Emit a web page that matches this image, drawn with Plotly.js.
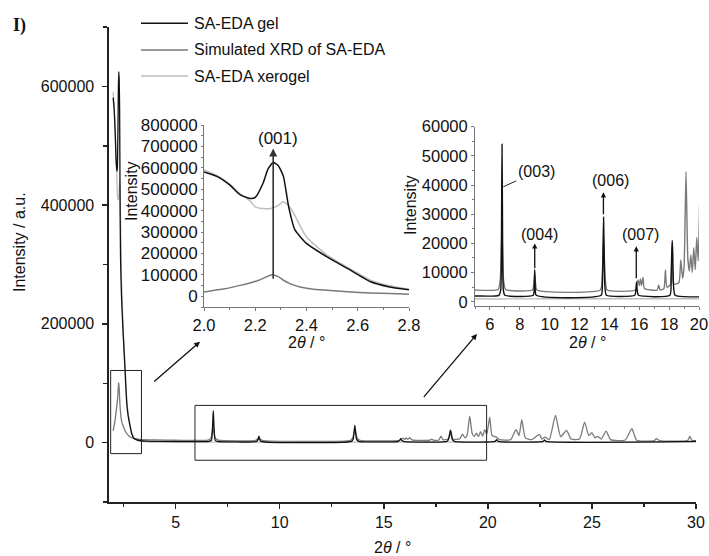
<!DOCTYPE html>
<html>
<head>
<meta charset="utf-8">
<script src="https://cdn.plot.ly/plotly-3.0.1.min.js"></script>
<style>html,body{margin:0;padding:0;background:#fff;}</style>
</head>
<body>
<div id="chart" style="width:709px;height:556px;"></div>
<script>
// ---------------- DATA ----------------
const seriesNames = ["SA-EDA gel", "Simulated XRD of SA-EDA", "SA-EDA xerogel"];

const gelX = [2.00,2.05,2.10,2.14,2.18,2.20,2.23,2.25,2.27,2.29,2.31,2.33,2.355,2.40,2.48,2.56,2.65,2.72,2.80,2.90,3.00,3.20,3.60,4.00,
  6.60,6.72,6.78,6.81,6.84,6.90,7.00,8.90,8.97,9.00,9.03,9.10,
  13.45,13.53,13.58,13.61,13.64,13.70,13.80,15.70,15.78,15.82,15.86,15.95,
  18.05,18.13,18.18,18.21,18.24,18.30,18.40,20.35,20.42,20.50,22.65,22.72,22.80,30.00];
const gelY = [581000,560000,520000,475000,457000,462000,527000,595000,625000,610000,560000,420000,310000,247000,184000,130000,68000,45000,30000,14000,7000,4000,2500,2200,
  2200,4000,30000,54000,30000,4000,2200,2200,6000,11000,6000,2200,
  2200,6000,20000,29000,20000,5000,2200,2200,4500,6800,4000,2200,
  2200,8000,18000,21000,17000,5000,2200,2000,5000,2000,2000,4500,2000,2000];

const simX = [2.00,2.08,2.14,2.19,2.22,2.245,2.265,2.29,2.31,2.34,2.375,2.42,2.48,2.56,2.65,2.80,3.00,3.30,4.00,5.00,
  6.55,6.70,6.76,6.80,6.84,6.90,7.05,8.85,8.95,9.00,9.05,9.15,
  13.40,13.52,13.58,13.61,13.65,13.72,13.85,15.75,15.85,15.92,16.00,16.08,16.15,16.25,16.35,
  17.20,17.30,17.40,17.65,17.75,17.85,18.10,18.20,18.30,18.65,18.78,18.90,19.00,19.13,19.25,19.35,19.45,19.55,19.65,19.75,19.85,19.95,
  20.09,20.20,20.40,20.55,21.10,21.35,21.50,21.63,21.80,22.10,22.47,22.60,22.75,22.95,23.25,23.50,23.78,24.00,24.40,24.65,24.85,24.99,25.15,25.27,25.45,25.68,25.90,
  26.60,26.92,27.15,28.00,28.10,28.25,29.60,29.70,29.80,30.00];
const simY = [20000,35000,51000,66000,78000,92000,101000,92000,75000,57000,43500,34000,28000,21000,15500,10000,7000,5500,4500,4000,
  4200,8000,18000,24000,18000,8000,4200,4000,6500,9500,6500,4000,
  4000,9000,18000,22000,17000,8000,4000,4000,6500,7500,5500,7800,5500,8300,4500,
  4000,5700,4000,4500,10900,5000,6000,16000,6000,6500,14300,8000,12000,44600,15000,10500,16000,10000,18500,11000,22000,14000,
  43000,12000,9400,5000,5000,21800,12000,38600,8000,5000,14000,6000,9400,5000,45900,10000,20700,6000,6000,34600,12000,16800,8000,10600,6000,19500,5000,
  4500,23500,4000,3500,6600,3500,3500,10600,4000,3500];

const xeroX = [2.00,2.05,2.10,2.14,2.18,2.20,2.23,2.26,2.29,2.31,2.33,2.35,2.40,2.48,2.56,2.65,2.72,2.80,2.90,3.00,3.20,3.60,5.00,10.00,20.00,30.00];
const xeroY = [590000,565000,525000,480000,445000,418000,410000,410000,425000,441000,425000,387000,277000,192000,135000,75000,50000,33000,16000,8000,3500,1500,1000,1000,1000,1000];

const mainXTicks = {dtick:5, minor:2.5};
const inset1XTickLabels = ["2.0","2.2","2.4","2.6","2.8"];
const inset2XTickLabels = ["6","8","10","12","14","16","18","20"];
const peakLabels = ["(001)","(003)","(004)","(006)","(007)"];

// ---------------- STYLE / LAYOUT ----------------
const colors = ["#111111", "#7a7a7a", "#bdbdbd"];
const W = 709, H = 556, ML = 109, MR = 10, MT = 27, MB = 54;
const PW = W - ML - MR, PH = H - MT - MB;
const PX = x => (x - ML) / PW;
const PY = y => (H - MB - y) / PH;

const FONT = "Liberation Sans, Arial, sans-serif";
const series = [
  {x: xeroX, y: xeroY, c: colors[2], n: seriesNames[2]},
  {x: simX, y: simY, c: colors[1], n: seriesNames[1]},
  {x: gelX, y: gelY, c: colors[0], n: seriesNames[0]}
];
const axesSets = [["x","y",1.3],["x2","y2",1.5],["x3","y3",1.4]];
const traces = [];
axesSets.forEach(a => {
  series.forEach(s => {
    traces.push({x: s.x, y: s.y, name: s.n, type: "scatter", mode: "lines",
      xaxis: a[0], yaxis: a[1], showlegend: false,
      line: {color: s.c, width: a[2], shape: "spline", smoothing: 0.5}});
  });
});

function ax(o) {
  return Object.assign({showline: true, linecolor: "#222", linewidth: 1.6, ticks: "outside",
    ticklen: 5, tickwidth: 1.5, tickcolor: "#222", showgrid: false, zeroline: false,
    tickfont: {family: FONT, size: 16, color: "#111"}}, o);
}
function inax(o) {
  return Object.assign({showline: true, linecolor: "#777", linewidth: 1, ticks: "outside",
    ticklen: 3, tickwidth: 1, tickcolor: "#777", showgrid: false, zeroline: false,
    ticklabeloverflow: "allow",
    tickfont: {family: FONT, size: 16.5, color: "#111"}}, o);
}

const A = (o) => Object.assign({xref: "paper", yref: "paper", showarrow: false, xanchor: "center", yanchor: "middle"}, o);

const layout = {
  width: W, height: H,
  margin: {l: ML, r: MR, t: MT, b: MB, pad: 0},
  paper_bgcolor: "#fff", plot_bgcolor: "rgba(0,0,0,0)",
  showlegend: false,
  font: {family: FONT, color: "#111"},
  xaxis: ax({domain: [0, (696 - ML) / PW], range: [1.8, 30], dtick: mainXTicks.dtick, tick0: 0,
    minor: {dtick: mainXTicks.minor, ticks: "outside", ticklen: 3, tickcolor: "#222", tickwidth: 1.5}, anchor: "y"}),
  yaxis: ax({domain: [0, 1], range: [-100000, 700000], dtick: 200000, tick0: 0, tickformat: "d",
    ticklabelstandoff: 5,
    minor: {dtick: 100000, ticks: "outside", ticklen: 4, tickcolor: "#222", tickwidth: 1.5}, anchor: "x"}),
  xaxis2: inax({domain: [PX(204), PX(409)], range: [2.0, 2.8], tickmode: "array",
    tickvals: inset1XTickLabels.map(Number), ticktext: inset1XTickLabels,
    minor: {tickvals: [2.1,2.3,2.5,2.7], ticks: "outside", ticklen: 2, tickcolor: "#777"}, anchor: "y2"}),
  yaxis2: inax({domain: [PY(307), PY(125)], range: [-50000, 800000], dtick: 100000, tick0: 0, tickformat: "d",
    tickfont: {family: FONT, size: 17, color: "#111"}, ticklen: 2,
    minor: {dtick: 50000, ticks: "outside", ticklen: 2, tickcolor: "#777"}, anchor: "x2"}),
  xaxis3: inax({domain: [PX(475), PX(699)], range: [5, 20], tickmode: "array",
    tickvals: inset2XTickLabels.map(Number), ticktext: inset2XTickLabels,
    minor: {dtick: 1, ticks: "outside", ticklen: 2, tickcolor: "#777"}, anchor: "y3"}),
  yaxis3: inax({domain: [PY(306.1), PY(126.7)], range: [-1500, 60000], dtick: 10000, tick0: 0, tickformat: "d",
    minor: {dtick: 5000, ticks: "outside", ticklen: 2, tickcolor: "#777"}, anchor: "x3"}),
  shapes: [
    {type: "rect", xref: "x", yref: "y", x0: 1.88, x1: 3.36, y0: -18500, y1: 121500, line: {color: "#222", width: 1}},
    {type: "rect", xref: "x", yref: "y", x0: 5.93, x1: 19.94, y0: -29700, y1: 62700, line: {color: "#222", width: 1}},
    {type: "line", xref: "paper", yref: "paper", x0: PX(141), x1: PX(188), y0: PY(23.3), y1: PY(23.3), line: {color: colors[0], width: 1.6}},
    {type: "line", xref: "paper", yref: "paper", x0: PX(141), x1: PX(188), y0: PY(50), y1: PY(50), line: {color: colors[1], width: 1.6}},
    {type: "line", xref: "paper", yref: "paper", x0: PX(141), x1: PX(188), y0: PY(76), y1: PY(76), line: {color: colors[2], width: 1.6}}
  ],
  annotations: [
    A({text: "<b>I)</b>", x: PX(19), y: PY(25), font: {family: "Liberation Serif, Times New Roman, serif", size: 18, color: "#111"}}),
    A({text: seriesNames[0], x: PX(191.7), y: PY(23.3), xanchor: "left", font: {size: 16}}),
    A({text: seriesNames[1], x: PX(191.7), y: PY(50), xanchor: "left", font: {size: 16}}),
    A({text: seriesNames[2], x: PX(191.7), y: PY(76), xanchor: "left", font: {size: 16}}),
    A({text: "Intensity / a.u.", x: PX(20), y: PY(242), textangle: -90, font: {size: 16}}),
    A({text: "2<i>θ</i> / °", x: PX(392), y: PY(547), font: {size: 16}}),
    A({text: "Intensity", x: PX(131), y: PY(191), textangle: -90, font: {size: 16}}),
    A({text: "2<i>θ</i> / °", x: PX(306), y: PY(342), font: {size: 16}}),
    A({text: "Intensity", x: PX(410), y: PY(205), textangle: -90, font: {size: 16}}),
    A({text: "2<i>θ</i> / °", x: PX(587), y: PY(342), font: {size: 16}}),
    // inset 1 label + arrow
    {text: peakLabels[0], xref: "x2", yref: "y2", x: 2.29, y: 735000, showarrow: false, xanchor: "center", yanchor: "middle", font: {size: 17}},
    {text: "", xref: "x2", yref: "y2", x: 2.27, y: 690000, axref: "x2", ayref: "y2", ax: 2.27, ay: 75000, showarrow: true, arrowhead: 2, arrowsize: 1, arrowwidth: 1.6, arrowcolor: "#333"},
    // inset 2 labels + arrows
    {text: peakLabels[1], xref: "x3", yref: "y3", x: 6.9, y: 39400, axref: "x3", ayref: "y3", ax: 9.1, ay: 44600, showarrow: true, arrowhead: 0, arrowwidth: 1, arrowcolor: "#222", font: {size: 16}},
    {text: peakLabels[2], xref: "x3", yref: "y3", x: 9.32, y: 23200, showarrow: false, xanchor: "center", yanchor: "middle", font: {size: 16}},
    {text: "", xref: "x3", yref: "y3", x: 9.0, y: 20000, axref: "x3", ayref: "y3", ax: 9.0, ay: 11000, showarrow: true, arrowhead: 2, arrowsize: 0.8, arrowwidth: 1.3, arrowcolor: "#111"},
    {text: peakLabels[3], xref: "x3", yref: "y3", x: 14.04, y: 41700, showarrow: false, xanchor: "center", yanchor: "middle", font: {size: 16}},
    {text: "", xref: "x3", yref: "y3", x: 13.6, y: 37500, axref: "x3", ayref: "y3", ax: 13.6, ay: 29500, showarrow: true, arrowhead: 2, arrowsize: 0.8, arrowwidth: 1.3, arrowcolor: "#111"},
    {text: peakLabels[4], xref: "x3", yref: "y3", x: 16.1, y: 23200, showarrow: false, xanchor: "center", yanchor: "middle", font: {size: 16}},
    {text: "", xref: "x3", yref: "y3", x: 15.8, y: 19000, axref: "x3", ayref: "y3", ax: 15.8, ay: 7500, showarrow: true, arrowhead: 2, arrowsize: 0.8, arrowwidth: 1.3, arrowcolor: "#111"},
    // main plot arrows to insets
    {text: "", xref: "paper", yref: "paper", x: PX(200), y: PY(341.7), ax: -47.3, ay: 41, showarrow: true, arrowhead: 2, arrowsize: 0.9, arrowwidth: 1.3, arrowcolor: "#111"},
    {text: "", xref: "paper", yref: "paper", x: PX(477), y: PY(334), ax: -54.4, ay: 64.3, showarrow: true, arrowhead: 2, arrowsize: 0.9, arrowwidth: 1.3, arrowcolor: "#111"}
  ]
};

Plotly.newPlot("chart", traces, layout, {staticPlot: true, displayModeBar: false});
</script>
</body>
</html>
